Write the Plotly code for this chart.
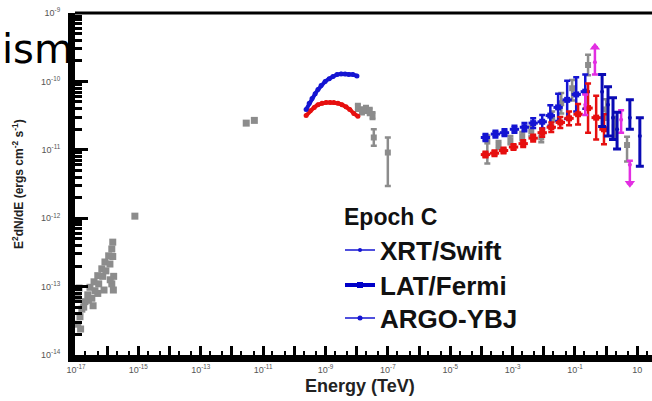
import numpy as np
import plotly.graph_objects as go

# All values are log10: energy in TeV, flux E^2 dN/dE in erg cm^-2 s^-1

# archival optical / UV / X-ray points (gray squares)
arch_logE = [-16.94, -16.87, -16.81, -16.94, -16.71, -16.62, -16.49, -16.55, -16.39,
             -16.42, -16.27, -16.30, -16.14, -16.17, -16.04, -16.07, -15.91, -15.95,
             -15.82, -15.85, -15.82, -15.85, -15.79, -16.90, -16.75, -16.60, -16.45,
             -16.30, -16.10, -15.90, -15.80, -16.85, -15.11, -11.54, -11.28]
arch_logF = [-13.55, -13.44, -13.33, -13.17, -13.22, -13.12, -13.17, -13.01, -13.06,
             -12.93, -12.96, -12.84, -12.85, -12.74, -12.77, -12.64, -12.67, -12.55,
             -12.56, -12.45, -12.35, -12.96, -12.85, -13.02, -13.30, -13.20, -13.28,
             -13.10, -13.05, -12.90, -13.05, -13.62, -11.97, -10.61, -10.57]

# archival hard X-ray / gamma-ray points with error bars (gray)
gray_logE = [-7.96, -7.83, -7.70, -7.58, -7.49, -7.45, -7.00,
             -3.81, -3.45, -3.07, -2.69, -2.40, -2.08, -1.73, -1.44, -1.09, -0.58,
             0.00, 0.28, 0.67]
gray_logF = [-10.38, -10.43, -10.41, -10.44, -10.50, -10.82, -11.04,
             -10.88, -10.93, -10.86, -10.80, -10.73, -10.82, -10.56, -10.32, -10.10, -9.76,
             -10.41, -10.67, -10.93]
gray_up = [0.05, 0.05, 0.05, 0.05, 0.05, 0.12, 0.22,
           0.09, 0.06, 0.06, 0.06, 0.07, 0.07, 0.12, 0.15, 0.12, 0.15,
           0.15, 0.15, 0.12]
gray_dn = [0.05, 0.05, 0.05, 0.05, 0.05, 0.12, 0.49,
           0.32, 0.06, 0.06, 0.06, 0.07, 0.07, 0.12, 0.15, 0.18, 0.15,
           0.15, 0.15, 0.24]

# XRT/Swift spectra
xrt_c_logE = [-9.62, -9.52, -9.43, -9.33, -9.24, -9.14, -9.01, -8.88, -8.76, -8.63,
              -8.50, -8.37, -8.25, -8.12, -7.99]
xrt_c_logF = [-10.41, -10.32, -10.25, -10.18, -10.12, -10.06, -10.00, -9.96, -9.93, -9.90,
              -9.89, -9.89, -9.90, -9.90, -9.92]
xrt_r_logE = [-9.62, -9.49, -9.36, -9.24, -9.11, -8.98, -8.85, -8.73, -8.60, -8.47,
              -8.34, -8.22, -8.09, -7.96]
xrt_r_logF = [-10.50, -10.43, -10.38, -10.34, -10.32, -10.31, -10.31, -10.31, -10.32, -10.34,
              -10.37, -10.41, -10.47, -10.51]

# LAT/Fermi spectra
lat_c_logE = [-3.87, -3.55, -3.26, -2.94, -2.62, -2.34, -2.05, -1.79, -1.54, -1.25, -0.96, -0.67]
lat_c_logF = [-10.82, -10.77, -10.75, -10.70, -10.67, -10.61, -10.59, -10.50, -10.38, -10.27,
              -10.19, -10.15]
lat_c_err = [0.05, 0.05, 0.05, 0.05, 0.06, 0.07, 0.10, 0.15, 0.20, 0.28, 0.25, 0.25]

lat_r_logE = [-3.87, -3.58, -3.29, -2.97, -2.66, -2.34, -2.05, -1.76, -1.47, -1.19, -0.90,
              -0.58, -0.32, -0.07]
lat_r_logF = [-11.07, -11.05, -11.01, -10.96, -10.91, -10.83, -10.75, -10.67, -10.60, -10.54,
              -10.48, -10.39, -10.53, -10.70]
lat_r_err = [0.04, 0.04, 0.04, 0.04, 0.05, 0.05, 0.06, 0.07, 0.08, 0.10, 0.15, 0.36, 0.32, 0.22]
lat_bin = 0.15  # half width of a LAT energy bin, dex

# ARGO-YBJ spectrum
argo_logE = [-0.13, 0.06, 0.22, 0.35, 0.76, 1.08]
argo_logF = [-10.15, -10.34, -10.53, -10.70, -10.53, -10.80]
argo_up = [0.25, 0.26, 0.29, 0.25, 0.26, 0.27]
argo_dn = [0.51, 0.46, 0.32, 0.29, 0.17, 0.44]

# archival TeV points (magenta); direction +1/-1 marks an open-ended bar
mag_logE = [-0.67, -0.36, 0.48, 0.76]
mag_logF = [-10.34, -9.72, -10.56, -11.22]
mag_up = [0.15, 0.22, 0.14, 0.06]
mag_dn = [0.15, 0.18, 0.19, 0.27]
mag_dir = [0, 1, 0, -1]

# axis decades
x_decades = list(range(-17, 2))
y_decades = list(range(-14, -8))

BLUE = "#1414d2"
DBLUE = "#0a0ab4"
RED = "#e60f0f"
GRAY = "#8c8c8c"
MAG = "#e22ee2"


def lin(v):
    return 10 ** np.asarray(v, dtype=float)


def errs(logv, up, dn):
    logv = np.asarray(logv, dtype=float)
    up = np.broadcast_to(np.asarray(up, dtype=float), logv.shape)
    dn = np.broadcast_to(np.asarray(dn, dtype=float), logv.shape)
    return 10 ** (logv + up) - 10 ** logv, 10 ** logv - 10 ** (logv - dn)


fig = go.Figure()

fig.add_trace(go.Scatter(
    x=lin(arch_logE), y=lin(arch_logF), mode="markers", showlegend=False,
    marker=dict(symbol="square", size=7, color=GRAY)))

gp, gm = errs(gray_logF, gray_up, gray_dn)
fig.add_trace(go.Scatter(
    x=lin(gray_logE), y=lin(gray_logF), mode="markers", showlegend=False,
    marker=dict(symbol="square", size=6, color=GRAY),
    error_y=dict(type="data", symmetric=False, array=gp, arrayminus=gm,
                 color=GRAY, thickness=2.5, width=3)))

fig.add_trace(go.Scatter(
    x=lin(xrt_r_logE), y=lin(xrt_r_logF), mode="lines+markers", showlegend=False,
    line=dict(color=RED, width=4), marker=dict(size=5, color=RED)))
fig.add_trace(go.Scatter(
    x=lin(xrt_c_logE), y=lin(xrt_c_logF), mode="lines+markers", showlegend=False,
    line=dict(color=BLUE, width=4), marker=dict(size=5, color=BLUE)))

xp, xm = errs(lat_c_logE, lat_bin, lat_bin)
yp, ym = errs(lat_c_logF, lat_c_err, lat_c_err)
fig.add_trace(go.Scatter(
    x=lin(lat_c_logE), y=lin(lat_c_logF), mode="markers", showlegend=False,
    marker=dict(symbol="square", size=6, color=BLUE),
    error_x=dict(type="data", symmetric=False, array=xp, arrayminus=xm,
                 color=BLUE, thickness=3, width=0),
    error_y=dict(type="data", symmetric=False, array=yp, arrayminus=ym,
                 color=BLUE, thickness=2.5, width=3)))

xp, xm = errs(lat_r_logE, lat_bin, lat_bin)
yp, ym = errs(lat_r_logF, lat_r_err, lat_r_err)
fig.add_trace(go.Scatter(
    x=lin(lat_r_logE), y=lin(lat_r_logF), mode="markers", showlegend=False,
    marker=dict(symbol="square", size=6, color=RED),
    error_x=dict(type="data", symmetric=False, array=xp, arrayminus=xm,
                 color=RED, thickness=3, width=0),
    error_y=dict(type="data", symmetric=False, array=yp, arrayminus=ym,
                 color=RED, thickness=2.5, width=3)))

mp, mm = errs(mag_logF, mag_up, mag_dn)
fig.add_trace(go.Scatter(
    x=lin(mag_logE), y=lin(mag_logF), mode="markers", showlegend=False,
    marker=dict(symbol="circle", size=4, color=MAG),
    error_y=dict(type="data", symmetric=False, array=mp, arrayminus=mm,
                 color=MAG, thickness=2.5, width=3)))
# arrow heads on the open-ended magenta bars
arrow_x, arrow_y, arrow_sym = [], [], []
for e, f, u, d, s in zip(mag_logE, mag_logF, mag_up, mag_dn, mag_dir):
    if s > 0:
        arrow_x.append(10 ** e); arrow_y.append(10 ** (f + u)); arrow_sym.append("triangle-up")
    elif s < 0:
        arrow_x.append(10 ** e); arrow_y.append(10 ** (f - d)); arrow_sym.append("triangle-down")
fig.add_trace(go.Scatter(
    x=arrow_x, y=arrow_y, mode="markers", showlegend=False,
    marker=dict(symbol=arrow_sym, size=9, color=MAG)))

ap, am = errs(argo_logF, argo_up, argo_dn)
fig.add_trace(go.Scatter(
    x=lin(argo_logE), y=lin(argo_logF), mode="markers", showlegend=False,
    marker=dict(symbol="circle", size=4, color=DBLUE),
    error_y=dict(type="data", symmetric=False, array=ap, arrayminus=am,
                 color=DBLUE, thickness=3, width=4)))

# legend keys, one legend box per row
fig.add_trace(go.Scatter(x=[None], y=[None], mode="lines+markers", name="XRT/Swift",
                         legend="legend",
                         line=dict(color=BLUE, width=1.5), marker=dict(size=4, color=BLUE)))
fig.add_trace(go.Scatter(x=[None], y=[None], mode="lines+markers", name="LAT/Fermi",
                         legend="legend2",
                         line=dict(color="#0000c8", width=4),
                         marker=dict(symbol="square", size=6, color="#0000c8")))
fig.add_trace(go.Scatter(x=[None], y=[None], mode="lines+markers", name="ARGO-YBJ",
                         legend="legend3",
                         line=dict(color=BLUE, width=1.5), marker=dict(size=5, color=BLUE)))


def exp_label(k):
    return "10" if k == 1 else "10<sup>%d</sup>" % k


L, R, T, B = 75, 0, 13, 46
W, H = 652, 401
pw, ph = W - L - R, H - T - B
AX = 7  # axis bar thickness, px


def px(xp_):
    return (xp_ - L) / pw


def py(yp_):
    return (H - B - yp_) / ph


def legend_row(yc):
    return dict(x=px(340), y=py(yc), xanchor="left", yanchor="middle",
                bgcolor="rgba(0,0,0,0)", borderwidth=0, itemwidth=30,
                font=dict(size=26, color="#111", weight="bold"))


fig.update_layout(
    width=W, height=H,
    margin=dict(l=L, r=R, t=T, b=B, pad=0),
    paper_bgcolor="white", plot_bgcolor="white",
    font=dict(family="Liberation Sans, Arial, sans-serif", color="#222"),
    xaxis=dict(
        type="log", range=[-17.03, 1.47],
        showgrid=False, zeroline=False,
        showline=True, linecolor="black", linewidth=AX,
        ticks="inside", ticklen=9, tickwidth=3, tickcolor="black",
        tickvals=[10.0 ** k for k in x_decades],
        ticktext=[exp_label(k) if k % 2 else "" for k in x_decades],
        tickfont=dict(size=9, color="#555"),
        minor=dict(ticks="inside", ticklen=4, tickwidth=2, tickcolor="black", dtick="D2"),
    ),
    yaxis=dict(
        type="log", range=[-14, -9],
        showgrid=False, zeroline=False,
        showline=True, linecolor="black", linewidth=AX,
        ticks="inside", ticklen=13, tickwidth=3, tickcolor="black",
        tickvals=[10.0 ** k for k in y_decades],
        ticktext=[exp_label(k) for k in y_decades],
        tickfont=dict(size=9, color="#555"),
        ticklabelstandoff=6,
        minor=dict(ticks="inside", ticklen=7, tickwidth=2.5, tickcolor="black", dtick="D1"),
    ),
    legend=legend_row(250),
    legend2=legend_row(285),
    legend3=legend_row(318),
    shapes=[
        dict(type="line", xref="paper", yref="paper", x0=0, x1=1, y0=1, y1=1,
             line=dict(color="black", width=3)),
        dict(type="rect", xref="paper", yref="paper", x0=-AX / pw, x1=0, y0=-AX / ph, y1=1,
             fillcolor="black", line=dict(width=0)),
        dict(type="rect", xref="paper", yref="paper", x0=-AX / pw, x1=1, y0=-AX / ph, y1=0,
             fillcolor="black", line=dict(width=0)),
    ],
    annotations=[
        dict(text="Epoch C", xref="paper", yref="paper", x=px(342), y=py(217),
             xanchor="left", yanchor="middle", showarrow=False,
             font=dict(size=23, color="#111", weight="bold")),
        dict(text="E<sup>2</sup>dN/dE (ergs cm<sup>-2</sup> s<sup>-1</sup>)",
             xref="paper", yref="paper", x=px(18), y=0.5,
             xanchor="center", yanchor="middle", textangle=-90, showarrow=False,
             font=dict(size=12, color="#222", weight="bold")),
        dict(text="Energy (TeV)", xref="paper", yref="paper",
             x=px(360), y=py(386),
             xanchor="center", yanchor="middle", showarrow=False,
             font=dict(size=18, color="#222", weight="bold")),
        dict(text="ism", xref="paper", yref="paper",
             x=px(0), y=py(49),
             xanchor="left", yanchor="middle", showarrow=False,
             font=dict(size=40, color="black", family="DejaVu Sans")),
    ],
)

fig.write_html("out.html")
